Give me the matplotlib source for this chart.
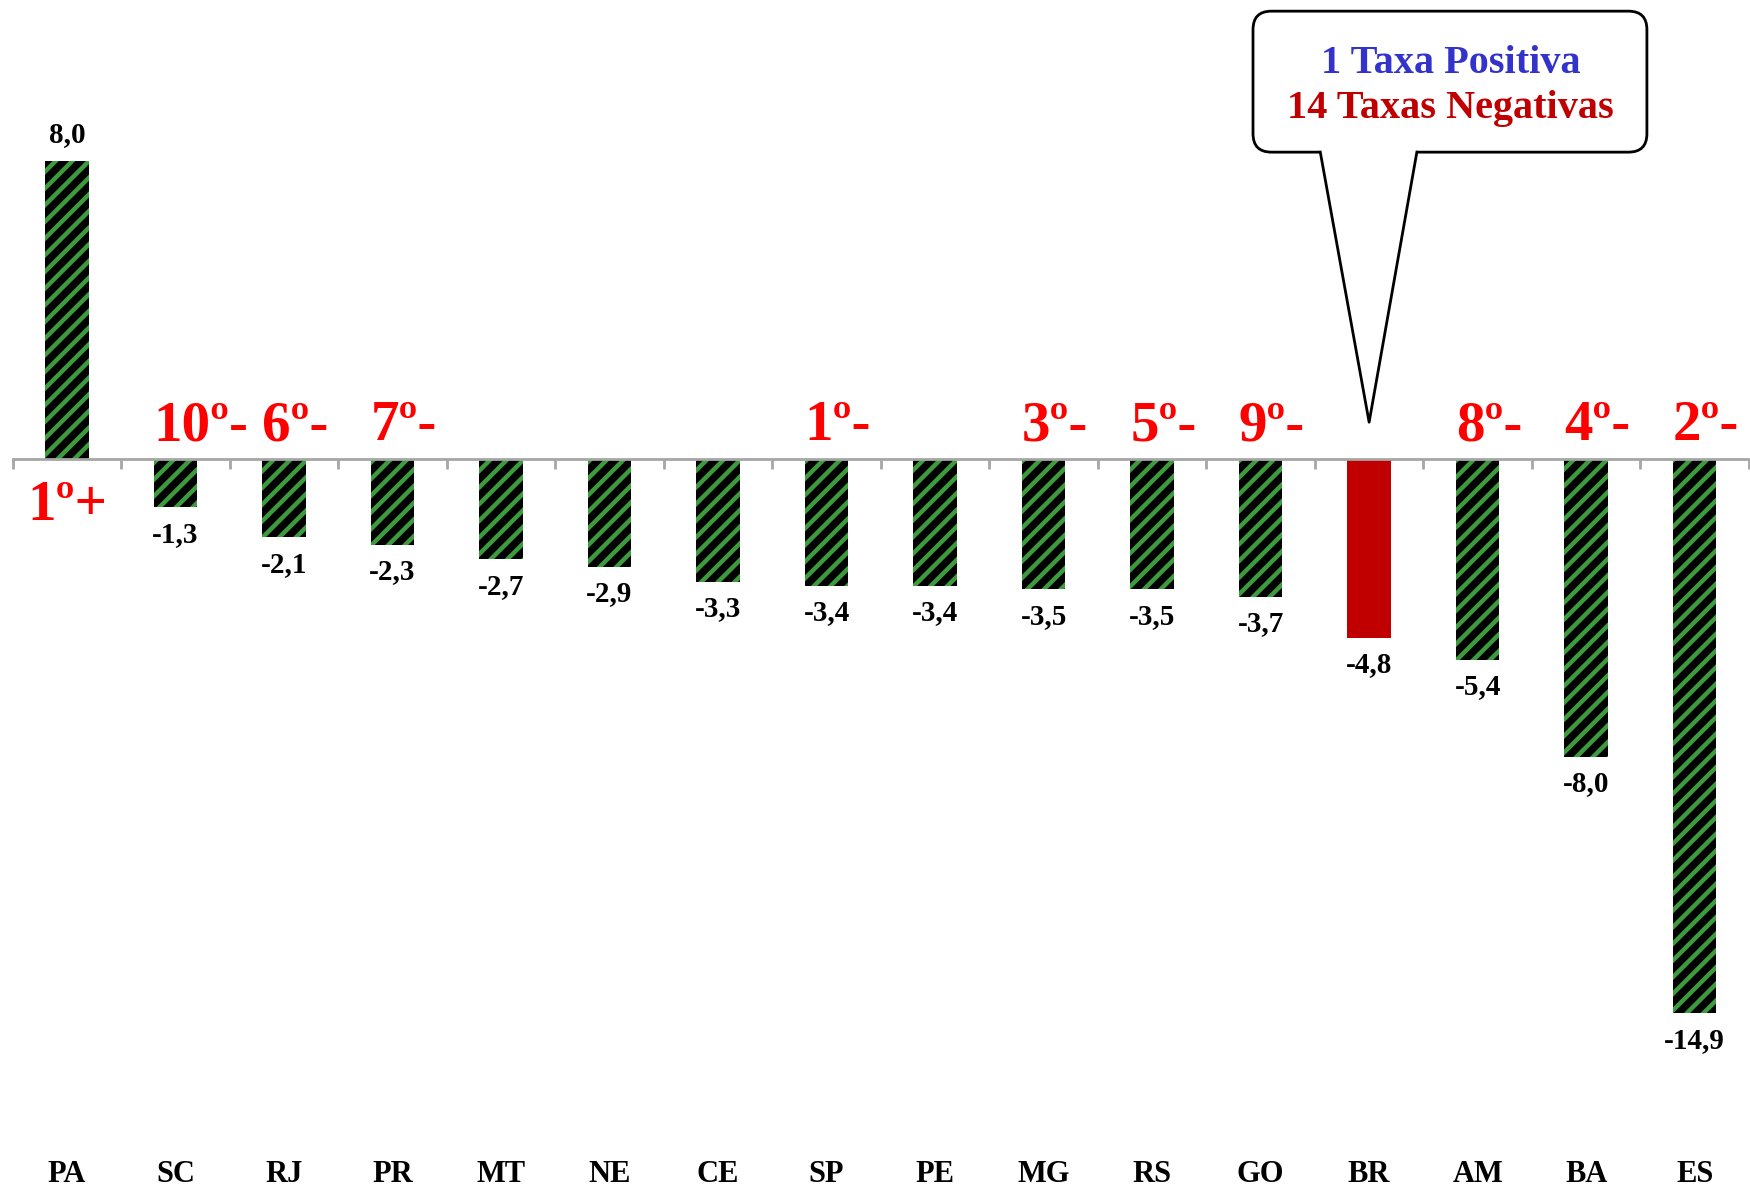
import matplotlib
matplotlib.use("Agg")
from matplotlib import pyplot as plt
from matplotlib.patches import FancyBboxPatch, Polygon

# dados
estados = ["PA", "SC", "RJ", "PR", "MT", "NE", "CE", "SP", "PE", "MG", "RS", "GO", "BR", "AM", "BA", "ES"]
taxas = [8.0, -1.3, -2.1, -2.3, -2.7, -2.9, -3.3, -3.4, -3.4, -3.5, -3.5, -3.7, -4.8, -5.4, -8.0, -14.9]
ranking = ["1º+", "10º-", "6º-", "7º-", "", "", "", "1º-", "", "3º-", "5º-", "9º-", "", "8º-", "4º-", "2º-"]
txt_pos = "1 Taxa Positiva"
txt_neg = "14 Taxas Negativas"

plt.rcParams["hatch.linewidth"] = 3.2
serif = ["Liberation Serif", "DejaVu Serif"]

fig = plt.figure(figsize=(17.5, 11.87), dpi=100)
ax = fig.add_axes([0, 0, 1, 1])

verde = "#3c9b3c"
for i, v in enumerate(taxas):
    if estados[i] == "BR":
        ax.bar(i, v, width=0.4, color="#c00000", edgecolor="#c00000", lw=0, zorder=2)
    else:
        ax.bar(i, v, width=0.4, facecolor="black", edgecolor=verde, hatch="//", lw=0, zorder=2)

ax.set_xlim(-0.617, 15.51)
ax.set_ylim(-19.57, 12.34)

# eixo zero com marcas
ax.spines["bottom"].set_position(("data", 0))
ax.spines["bottom"].set_bounds(-0.5, 15.5)
ax.spines["bottom"].set_color("#a6a6a6")
ax.spines["bottom"].set_linewidth(2)
ax.spines["bottom"].set_zorder(3)
for s in ["top", "left", "right"]:
    ax.spines[s].set_visible(False)
ax.set_xticks([i - 0.5 for i in range(len(estados) + 1)])
ax.set_xticklabels([])
ax.tick_params(axis="x", direction="out", length=7, width=2, color="#a6a6a6")
ax.set_yticks([])

# rotulos de valor
for i, v in enumerate(taxas):
    s = ("%.1f" % v).replace(".", ",")
    dy = 27 if v >= 0 else -27
    ax.annotate(s, (i, v), xytext=(0, dy), textcoords="offset pixels",
                ha="center", va="center", fontsize=21, fontweight="bold", family=serif)

# categorias embaixo
for i, e in enumerate(estados):
    ax.text(i, 0.004, e, transform=ax.get_xaxis_transform(), ha="center", va="baseline",
            fontsize=22, fontweight="bold", family=serif)

# ranking em vermelho
for i, r in enumerate(ranking):
    if not r:
        continue
    if taxas[i] >= 0:
        ax.annotate(r, (i, 0), xytext=(0, -21), textcoords="offset pixels", ha="center", va="top",
                    fontsize=41, fontweight="bold", color="#ff0000", family=serif)
    else:
        ax.annotate(r, (i - 0.2, 0), xytext=(0, 19), textcoords="offset pixels", ha="left", va="baseline",
                    fontsize=41, fontweight="bold", color="#ff0000", family=serif)

# balao
ib = estados.index("BR")
caixa = FancyBboxPatch((ib - 1.07, 8.25), 3.63, 3.79, boxstyle="round,pad=0,rounding_size=0.17",
                       mutation_aspect=108.5 / 37.2, facecolor="white", edgecolor="black", lw=2, zorder=4)
ax.add_patch(caixa)
b1, b2, tip = (ib - 0.45, 8.25), (ib + 0.44, 8.25), (ib, 0.99)
ax.add_patch(Polygon([(b1[0], 8.32), (b2[0], 8.32), tip], closed=True, facecolor="white",
                     edgecolor="none", zorder=5))
ax.plot([b1[0], tip[0], b2[0]], [b1[1], tip[1], b2[1]], color="black", lw=2, zorder=6)
ax.text(ib + 0.75, 10.38, txt_pos, ha="center", va="baseline", fontsize=29, fontweight="bold",
        color="#3333cc", family=serif, zorder=7)
ax.text(ib + 0.75, 9.17, txt_neg, ha="center", va="baseline", fontsize=29, fontweight="bold",
        color="#c00000", family=serif, zorder=7)

plt.savefig("out.png", dpi=100)
